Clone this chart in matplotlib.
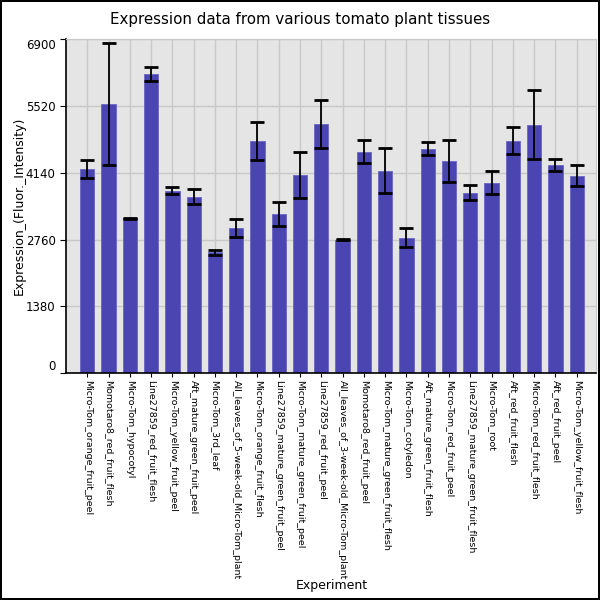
import matplotlib
matplotlib.use("Agg")
import matplotlib.pyplot as plt

# Tissue names (x categories)
experiments = [
    "Micro-Tom_orange_fruit_peel", "Momotaro8_red_fruit_flesh", "Micro-Tom_hypocotyl",
    "Line27859_red_fruit_flesh", "Micro-Tom_yellow_fruit_peel", "Aft_mature_green_fruit_peel",
    "Micro-Tom_3rd_leaf", "All_leaves_of_5-week-old_Micro-Tom_plant",
    "Micro-Tom_orange_fruit_flesh", "Line27859_mature_green_fruit_peel",
    "Micro-Tom_mature_green_fruit_peel", "Line27859_red_fruit_peel",
    "All_leaves_of_3-week-old_Micro-Tom_plant", "Momotaro8_red_fruit_peel",
    "Micro-Tom_mature_green_fruit_flesh", "Micro-Tom_cotyledon",
    "Aft_mature_green_fruit_flesh", "Micro-Tom_red_fruit_peel",
    "Line27859_mature_green_fruit_flesh", "Micro-Tom_root", "Aft_red_fruit_flesh",
    "Micro-Tom_red_fruit_flesh", "Aft_red_fruit_peel", "Micro-Tom_yellow_fruit_flesh",
]

# Mean expression and error
expression = [4225, 5560, 3195, 6180, 3765, 3645, 2495, 2990, 4800, 3280, 4100, 5150,
              2755, 4575, 4185, 2800, 4635, 4390, 3730, 3935, 4800, 5130, 4305, 4080]
errors = [185, 1260, 15, 150, 75, 160, 55, 185, 395, 245, 475, 500,
          10, 240, 460, 200, 140, 435, 150, 245, 275, 715, 127, 210]

y_ticks = [0, 1380, 2760, 4140, 5520, 6900]

fig = plt.figure(figsize=(6, 6), dpi=100)
fig.patch.set_edgecolor("black")
fig.patch.set_linewidth(1.5)
ax = fig.add_axes([0.11, 0.378, 0.883, 0.557])

ax.set_facecolor("#e5e5e5")
ax.set_axisbelow(True)
ax.grid(True, color="#c8c8c8", linewidth=1)

x = list(range(len(experiments)))
ax.bar(x, expression, width=0.67, color="#4b45b2", edgecolor="#6a66c4", linewidth=0.6)
ax.errorbar(x, expression, yerr=errors, fmt="none", ecolor="black",
            elinewidth=1.3, capsize=5, capthick=2)

ax.set_xlim(-1, 23.9)
ax.set_ylim(0, 6900)
ax.set_yticks(y_ticks)
ax.set_yticklabels([str(t) for t in y_ticks], fontsize=8.5)
labels = ax.get_yticklabels()
labels[0].set_va("bottom")
labels[-1].set_va("top")

ax.set_xticks(x)
ax.set_xticklabels(experiments, rotation=270, fontsize=6.8, va="top", ha="center")
ax.tick_params(axis="x", length=3, pad=2)
ax.tick_params(axis="y", length=4)

for side in ["top", "right"]:
    ax.spines[side].set_color("#c8c8c8")
for side in ["left", "bottom"]:
    ax.spines[side].set_color("black")
    ax.spines[side].set_linewidth(1.2)

fig.text(0.5, 0.967, "Expression data from various tomato plant tissues",
         ha="center", va="center", fontsize=10.8)
ax.set_ylabel("Expression_(Fluor._Intensity)", fontsize=9, labelpad=0)
fig.text(0.553, 0.018, "Experiment", ha="center", fontsize=9)

fig.savefig("out.png", dpi=100)
